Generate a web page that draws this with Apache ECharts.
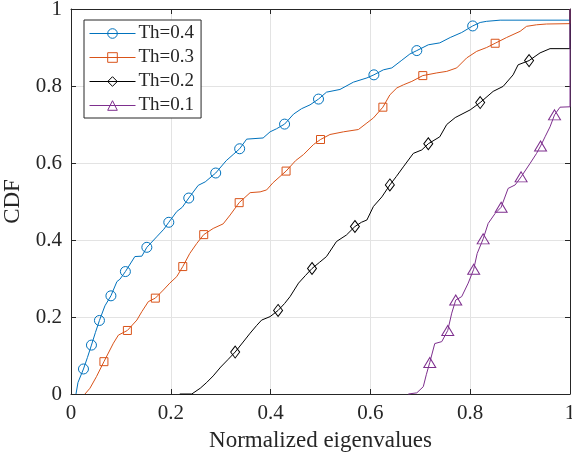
<!DOCTYPE html>
<html>
<head>
<meta charset="utf-8">
<script src="https://cdn.jsdelivr.net/npm/echarts@6/dist/echarts.min.js"></script>
<style>html,body{margin:0;padding:0;background:#fff;}#c{width:572px;height:457px;}</style>
</head>
<body>
<div id="c"></div>
<script>
// Th=0.4
var th04X = [0.010,0.014,0.025,0.033,0.041,0.049,0.057,0.068,0.080,0.092,0.098,0.109,0.128,0.142,0.152,0.173,0.186,0.196,0.212,0.223,0.236,0.255,0.269,0.290,0.311,0.325,0.338,0.352,0.385,0.399,0.412,0.428,0.446,0.462,0.479,0.496,0.512,0.539,0.566,0.593,0.607,0.626,0.643,0.663,0.679,0.693,0.716,0.739,0.760,0.783,0.805,0.820,0.833,0.860,1.000,1.000];
var th04Y = [0.000,0.030,0.065,0.095,0.127,0.160,0.191,0.229,0.255,0.292,0.298,0.318,0.357,0.358,0.381,0.410,0.428,0.446,0.474,0.485,0.509,0.542,0.551,0.574,0.606,0.622,0.637,0.662,0.665,0.681,0.689,0.701,0.727,0.741,0.751,0.766,0.784,0.791,0.810,0.821,0.829,0.842,0.847,0.867,0.883,0.892,0.907,0.912,0.926,0.939,0.956,0.965,0.968,0.971,0.971,1.000];
var th04Marks = [2,4,6,8,11,14,17,20,23,26,31,35,40,45,50];

// Th=0.3
var th03X = [0.028,0.038,0.051,0.066,0.085,0.095,0.113,0.132,0.142,0.155,0.169,0.185,0.198,0.212,0.224,0.238,0.252,0.266,0.285,0.305,0.319,0.337,0.359,0.379,0.392,0.405,0.431,0.450,0.466,0.486,0.500,0.519,0.546,0.576,0.593,0.606,0.625,0.639,0.653,0.666,0.683,0.705,0.733,0.753,0.773,0.793,0.813,0.833,0.850,0.873,0.900,0.913,0.933,0.953,1.000,1.000];
var th03Y = [0.000,0.015,0.045,0.084,0.132,0.153,0.165,0.192,0.214,0.240,0.249,0.270,0.288,0.305,0.331,0.365,0.391,0.414,0.430,0.442,0.465,0.497,0.523,0.525,0.530,0.549,0.579,0.606,0.622,0.648,0.661,0.674,0.681,0.687,0.704,0.717,0.745,0.777,0.795,0.803,0.812,0.827,0.834,0.838,0.847,0.873,0.890,0.900,0.911,0.926,0.942,0.955,0.959,0.961,0.962,1.000];
var th03Marks = [3,6,10,14,17,21,26,30,36,41,48];

// Th=0.2
var th02X = [0.218,0.242,0.259,0.272,0.285,0.300,0.315,0.329,0.345,0.359,0.372,0.382,0.399,0.415,0.428,0.439,0.456,0.470,0.483,0.498,0.512,0.532,0.552,0.569,0.582,0.593,0.606,0.623,0.639,0.652,0.666,0.686,0.703,0.716,0.739,0.753,0.770,0.800,0.820,0.846,0.866,0.886,0.896,0.918,0.940,0.960,1.000,1.000];
var th02Y = [0.000,0.000,0.015,0.030,0.047,0.070,0.090,0.109,0.135,0.158,0.178,0.192,0.201,0.217,0.235,0.253,0.288,0.308,0.326,0.342,0.357,0.396,0.413,0.435,0.446,0.452,0.487,0.512,0.543,0.565,0.590,0.625,0.634,0.650,0.668,0.700,0.718,0.738,0.757,0.786,0.799,0.829,0.855,0.866,0.886,0.897,0.897,1.000];
var th02Marks = [7,13,18,23,28,33,38,43];

// Th=0.1
var th01X = [0.676,0.693,0.706,0.712,0.719,0.729,0.743,0.755,0.763,0.771,0.783,0.796,0.807,0.814,0.826,0.836,0.850,0.862,0.876,0.890,0.902,0.920,0.933,0.941,0.950,0.960,0.969,0.980,1.000,1.000];
var th01Y = [0.000,0.003,0.019,0.050,0.082,0.131,0.136,0.165,0.210,0.244,0.253,0.288,0.324,0.365,0.403,0.443,0.469,0.485,0.534,0.543,0.564,0.599,0.625,0.644,0.668,0.694,0.725,0.745,0.746,1.000];
var th01Marks = [4,7,9,12,14,17,20,23,26];

var seriesNames = ['Th=0.4','Th=0.3','Th=0.2','Th=0.1'];
var xTicks = [0, 0.2, 0.4, 0.6, 0.8, 1];
var yTicks = [0, 0.2, 0.4, 0.6, 0.8, 1];

var FONT = "'Liberation Serif','Times New Roman','DejaVu Serif',serif";
var TXT = '#262626';

function build(xs, ys, marks) {
  var out = [];
  for (var i = 0; i < xs.length; i++) {
    if (marks.indexOf(i) >= 0) out.push([xs[i], ys[i]]);
    else out.push({ value: [xs[i], ys[i]], symbol: 'none' });
  }
  return out;
}

function mkSeries(name, color, symbol, size, data) {
  return {
    name: name, type: 'line', data: data,
    symbol: symbol, symbolSize: size, showSymbol: true,
    lineStyle: { color: color, width: 1 },
    itemStyle: { color: 'rgba(255,255,255,0)', borderColor: color, borderWidth: 1 },
    emphasis: { disabled: true },
    clip: false, z: 3
  };
}

var chart = echarts.init(document.getElementById('c'), null, { renderer: 'canvas' });

function baseAxis(pos, showLabel) {
  return {
    type: 'value', min: xTicks[0], max: xTicks[xTicks.length - 1], interval: 0.2, position: pos,
    axisLine: { show: true, onZero: false, lineStyle: { color: TXT, width: 1 } },
    axisTick: { show: true, inside: true, length: 5, lineStyle: { color: TXT, width: 1 } },
    axisLabel: { show: showLabel, fontFamily: FONT, fontSize: 21, color: TXT },
    splitLine: { show: false }
  };
}

var xA = baseAxis('bottom', true);
xA.axisLabel.margin = 9;
xA.splitLine = { show: true, lineStyle: { color: '#e3e3e3', width: 1 } };
xA.name = 'Normalized eigenvalues';
xA.nameLocation = 'middle';
xA.nameGap = 35;
xA.nameTextStyle = { fontFamily: FONT, fontSize: 23, color: TXT };
var xB = baseAxis('top', false);

var yA = baseAxis('left', true);
yA.axisLabel.margin = 9;
yA.splitLine = { show: true, lineStyle: { color: '#e3e3e3', width: 1 } };
yA.name = 'CDF';
yA.nameLocation = 'middle';
yA.nameGap = 37;
yA.nameTextStyle = { fontFamily: FONT, fontSize: 23, color: TXT };
var yB = baseAxis('right', false);

chart.setOption({
  animation: false,
  backgroundColor: '#ffffff',
  grid: { left: 71, right: 2, top: 9, bottom: 63, containLabel: false, outerBoundsMode: 'none' },
  xAxis: [xA, xB],
  yAxis: [yA, yB],
  legend: {
    orient: 'vertical', left: 84, top: 20,
    data: seriesNames,
    itemWidth: 46, itemHeight: 12, itemGap: 5,
    padding: [4, 7, 3, 5],
    borderColor: TXT, borderWidth: 1, borderRadius: 0,
    backgroundColor: '#ffffff',
    itemStyle: { borderWidth: 1 },
    lineStyle: { width: 1 },
    textStyle: { fontFamily: FONT, fontSize: 19, color: TXT, padding: [0, 0, 0, -2] },
    selectedMode: false
  },
  series: [
    mkSeries(seriesNames[0], '#0072BD', 'circle', 10, build(th04X, th04Y, th04Marks)),
    mkSeries(seriesNames[1], '#D95319', 'rect', 8, build(th03X, th03Y, th03Marks)),
    mkSeries(seriesNames[2], '#000000', 'diamond', [9, 12], build(th02X, th02Y, th02Marks)),
    mkSeries(seriesNames[3], '#7E2F8E', 'triangle', [12, 10], build(th01X, th01Y, th01Marks))
  ]
});
</script>
</body>
</html>
